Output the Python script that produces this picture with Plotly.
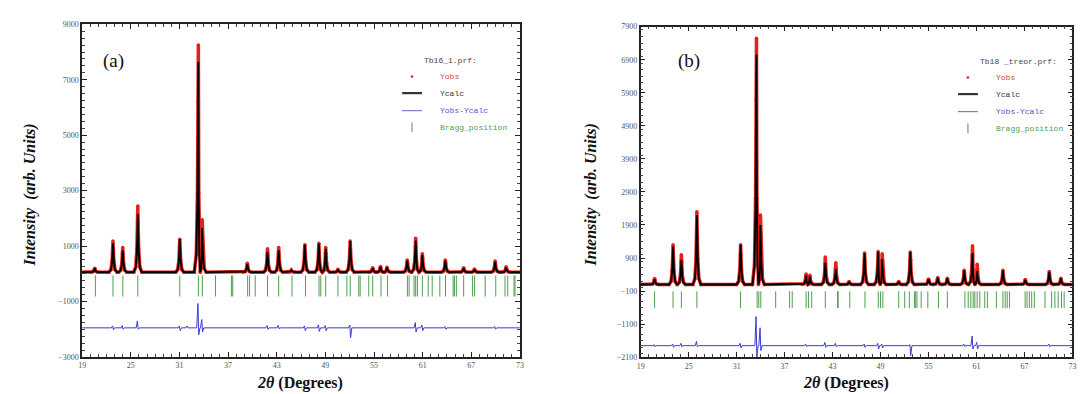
import plotly.graph_objects as go

# ---------------- Panel (a) data ----------------
a_bg = 60
a_peak_pos = [20.55, 22.8, 24.0, 25.86, 31.04, 33.33, 33.8, 39.37, 41.86, 43.24, 44.8, 46.47,
              48.2, 49.04, 50.55, 52.06, 54.84, 55.8, 56.6, 59.1, 60.14, 60.96, 63.8, 66.06,
              67.4, 69.94, 71.3]
a_obs_h = [200, 1180, 950, 2450, 1250, 8250, 1950, 380, 900, 950, 130, 1050,
           1100, 950, 160, 1180, 220, 260, 240, 500, 1280, 720, 500, 220, 170, 460, 250]
a_calc_h = [200, 1100, 850, 2150, 1250, 7650, 1650, 350, 780, 850, 130, 1050,
            1080, 900, 150, 1180, 200, 250, 230, 480, 1200, 680, 480, 200, 150, 430, 230]
a_diff_base = -1950
a_diff_pos = [22.8, 24.0, 25.86, 31.04, 32.0, 33.33, 33.8, 41.86, 43.24, 46.47, 48.2, 49.04,
              52.06, 60.14, 60.96, 63.8, 69.94]
a_diff_up = [-1880, -1870, -1700, -1880, -1880, -1070, -1650, -1870, -1860, -1880, -1840, -1870,
             -1850, -1760, -1850, -1900, -1900]
a_diff_dn = [-2020, -2000, -2000, -2050, -1950, -2200, -2100, -2000, -1980, -2050, -2080, -2050,
             -2310, -2100, -2050, -2000, -2000]
a_bragg = [20.63, 22.80, 24.02, 25.86, 31.04, 33.33, 33.82, 35.45, 37.41, 37.57, 39.41, 39.65,
           40.35, 41.86, 43.24, 44.88, 46.55, 48.22, 48.43, 49.04, 50.55, 51.65, 52.06, 53.12,
           53.29, 54.35, 54.84, 55.86, 56.67, 59.12, 59.33, 59.94, 60.14, 60.35, 60.96, 61.69,
           62.18, 63.12, 63.82, 64.76, 64.92, 65.16, 66.06, 67.16, 67.41, 68.71, 70.02, 71.16,
           71.49, 72.27, 72.39]
a_bragg_y = -440

# ---------------- Panel (b) data ----------------
b_bg = 100
b_peak_pos = [20.74, 23.05, 24.09, 26.03, 31.5, 33.48, 33.98, 39.69, 40.15, 42.09, 43.4, 45.07,
              47.0, 48.7, 49.2, 51.27, 52.72, 55.0, 56.15, 57.35, 59.46, 60.5, 61.08, 64.3,
              67.1, 70.1, 71.55]
b_obs_h = [280, 1300, 1000, 2300, 1300, 7550, 2200, 420, 380, 930, 760, 190,
           1050, 1100, 1030, 190, 1080, 270, 310, 290, 530, 1270, 710, 530, 250, 490, 290]
b_calc_h = [260, 1250, 850, 2200, 1300, 7050, 1900, 370, 340, 760, 560, 180,
            1050, 1080, 860, 180, 1080, 260, 300, 280, 520, 1050, 510, 520, 240, 480, 280]
b_diff_base = -1750
b_diff_pos = [20.74, 23.05, 24.09, 26.03, 31.5, 33.48, 33.98, 39.69, 42.09, 43.4, 47.0, 48.7,
              49.2, 52.72, 59.46, 60.5, 61.08, 70.1]
b_diff_up = [-1720, -1700, -1680, -1620, -1680, -870, -1210, -1700, -1650, -1680, -1700, -1680,
             -1700, -1720, -1700, -1460, -1650, -1700]
b_diff_dn = [-1780, -1800, -1780, -1780, -1820, -2100, -1900, -1780, -1800, -1780, -1800, -1850,
             -1820, -2050, -1780, -1850, -1850, -1780]
b_bragg = [20.74, 23.05, 24.09, 26.03, 31.49, 33.56, 33.77, 34.02, 35.88, 37.62, 37.95, 39.69,
           39.98, 40.39, 42.09, 43.62, 43.70, 45.15, 47.05, 48.71, 49.0, 49.29, 51.27, 52.02,
           52.6, 53.26, 53.34, 53.55, 54.08, 54.91, 56.24, 57.35, 59.55, 59.96, 60.29, 60.58,
           60.79, 61.08, 61.41, 62.03, 62.36, 63.48, 64.3, 64.59, 64.84, 65.13, 67.08, 67.32,
           67.61, 67.9, 68.23, 69.56, 70.39, 70.8, 71.21, 71.63, 71.96]
b_bragg_y = -360

X_MIN, X_MAX = 19, 73
RED = "#e0231c"
BLUE = "#3b3bd0"
GREEN = "#4f9e4f"
SERIF = "Times New Roman, Liberation Serif, DejaVu Serif, serif"
MONO = "Courier New, Liberation Mono, DejaVu Sans Mono, monospace"


def profile(pos, heights, bg, w=0.5):
    pk = sorted(zip(pos, heights))
    xs, ys = [X_MIN], [bg]
    for i, (p, h) in enumerate(pk):
        wl = w if i == 0 else min(w, (p - pk[i - 1][0]) / 2)
        wr = w if i == len(pk) - 1 else min(w, (pk[i + 1][0] - p) / 2)
        for dx, f in [(-wl, 0), (-wl * 0.5, 0.08), (-wl * 0.22, 0.35), (-wl * 0.08, 0.75), (0, 1),
                      (wr * 0.08, 0.75), (wr * 0.22, 0.35), (wr * 0.5, 0.08), (wr, 0)]:
            xs.append(p + dx)
            ys.append(bg + f * (h - bg))
    xs.append(X_MAX)
    ys.append(bg)
    return xs, ys


def diff_curve(pos, up, dn, base):
    xs, ys = [X_MIN], [base]
    for p, u, d in sorted(zip(pos, up, dn)):
        for dx, v in [(-0.2, base), (-0.05, u), (0.05, d), (0.2, base)]:
            xs.append(p + dx)
            ys.append(v)
    xs.append(X_MAX)
    ys.append(base)
    return xs, ys


fig = go.Figure()

panels = [
    dict(x="x", y="y", bg=a_bg, pos=a_peak_pos, obs=a_obs_h, calc=a_calc_h,
         dpos=a_diff_pos, dup=a_diff_up, ddn=a_diff_dn, dbase=a_diff_base,
         bragg=a_bragg, by=a_bragg_y, bsize=15),
    dict(x="x2", y="y2", bg=b_bg, pos=b_peak_pos, obs=b_obs_h, calc=b_calc_h,
         dpos=b_diff_pos, dup=b_diff_up, ddn=b_diff_dn, dbase=b_diff_base,
         bragg=b_bragg, by=b_bragg_y, bsize=12),
]

for p in panels:
    ox, oy = profile(p["pos"], p["obs"], p["bg"])
    cx, cy = profile(p["pos"], p["calc"], p["bg"])
    dx, dy = diff_curve(p["dpos"], p["dup"], p["ddn"], p["dbase"])
    fig.add_trace(go.Scatter(x=ox, y=oy, xaxis=p["x"], yaxis=p["y"], mode="lines+markers",
                             line=dict(color=RED, width=3.5), marker=dict(color=RED, size=3.5),
                             showlegend=False))
    fig.add_trace(go.Scatter(x=cx, y=cy, xaxis=p["x"], yaxis=p["y"], mode="lines",
                             line=dict(color="black", width=1.8), showlegend=False))
    fig.add_trace(go.Scatter(x=dx, y=dy, xaxis=p["x"], yaxis=p["y"], mode="lines",
                             line=dict(color=BLUE, width=1), showlegend=False))
    fig.add_trace(go.Scatter(x=p["bragg"], y=[p["by"]] * len(p["bragg"]), xaxis=p["x"], yaxis=p["y"],
                             mode="markers",
                             marker=dict(symbol="line-ns-open", size=p["bsize"], color=GREEN,
                                         line=dict(color=GREEN, width=1)),
                             showlegend=False))

tickfont = dict(family=SERIF, size=8, color="#555")
common_x = dict(range=[X_MIN, X_MAX], tick0=19, dtick=6, ticks="inside", ticklen=5, tickwidth=1,
                tickcolor="#222", showline=True, linecolor="#222", linewidth=1.5, mirror="allticks",
                showgrid=False, zeroline=False, tickfont=tickfont,
                minor=dict(dtick=1, ticks="inside", ticklen=3, tickcolor="#444", showgrid=False))
common_y = dict(ticks="inside", ticklen=5, tickwidth=1, tickcolor="#222", showline=True,
                linecolor="#222", linewidth=1.5, mirror="allticks", showgrid=False, zeroline=False,
                tickfont=tickfont)

fig.update_layout(
    width=1091, height=394, margin=dict(l=0, r=0, t=0, b=0),
    paper_bgcolor="white", plot_bgcolor="white", showlegend=False,
    xaxis=dict(domain=[0.0648, 0.469], anchor="y", **common_x),
    yaxis=dict(domain=[0.104, 0.968], anchor="x", range=[-3000, 9000], tick0=-3000, dtick=2000,
               minor=dict(dtick=250, ticks="inside", ticklen=3, tickcolor="#444", showgrid=False),
               **common_y),
    xaxis2=dict(domain=[0.5805, 0.9792], anchor="y2", **common_x),
    yaxis2=dict(domain=[0.1033, 0.962], anchor="x2", range=[-2100, 7900], tick0=-2100, dtick=1000,
                minor=dict(dtick=200, ticks="inside", ticklen=3, tickcolor="#444", showgrid=False),
                **common_y),
)

ann = []
shapes = []
title_font = dict(family=SERIF, size=16, color="#111")
for (cx, ytx, lab, labx) in [(290, 18, "(a)", 102), (840, 583, "(b)", 682)]:
    ann.append(dict(x=cx / 1091, y=1 - 380 / 394, xref="paper", yref="paper",
                    text="<b><i>2θ</i> (Degrees)</b>", showarrow=False, font=title_font,
                    xanchor="center", yanchor="middle"))
    ann.append(dict(x=ytx / 1091, y=1 - 187 / 394, xref="paper", yref="paper",
                    text="<b><i>Intensity  (arb. Units)</i></b>", showarrow=False, textangle=-90,
                    font=title_font, xanchor="center", yanchor="middle"))
    ann.append(dict(x=labx / 1091, y=1 - 50 / 394, xref="paper", yref="paper", text=lab,
                    showarrow=False, font=dict(family=SERIF, size=19, color="#111"),
                    xanchor="center", yanchor="middle"))

legends = [
    dict(title="Tb16_1.prf:", tx=413, ty=50, x0=393, x1=413, textx=429,
         rows=[66, 83, 101, 118]),
    dict(title="Tb18 _treor.prf:", tx=973, ty=51, x0=953, x1=973, textx=989,
         rows=[67, 84, 102, 119]),
]
for L in legends:
    ann.append(dict(x=L["tx"] / 1091, y=1 - L["ty"] / 394, xref="paper", yref="paper",
                    text=L["title"], showarrow=False, xanchor="left", yanchor="middle",
                    font=dict(family=MONO, size=8, color="#444")))
    names = [("Yobs", "#d04444"), ("Ycalc", "#333"), ("Yobs-Ycalc", "#5555c8"),
             ("Bragg_position", "#4fa04f")]
    for (name, col), ry in zip(names, L["rows"]):
        ann.append(dict(x=L["textx"] / 1091, y=1 - ry / 394, xref="paper", yref="paper",
                        text=name, showarrow=False, xanchor="left", yanchor="middle",
                        font=dict(family=MONO, size=8, color=col)))
    mid = (L["x0"] + L["x1"]) / 2
    r = L["rows"]
    shapes.append(dict(type="circle", xref="paper", yref="paper",
                       x0=(mid - 1.3) / 1091, x1=(mid + 1.3) / 1091,
                       y0=1 - (r[0] + 1.3) / 394, y1=1 - (r[0] - 1.3) / 394,
                       fillcolor=RED, line=dict(width=0)))
    shapes.append(dict(type="line", xref="paper", yref="paper", x0=L["x0"] / 1091, x1=L["x1"] / 1091,
                       y0=1 - r[1] / 394, y1=1 - r[1] / 394, line=dict(color="#333", width=2.2)))
    shapes.append(dict(type="line", xref="paper", yref="paper", x0=L["x0"] / 1091, x1=L["x1"] / 1091,
                       y0=1 - r[2] / 394, y1=1 - r[2] / 394, line=dict(color="#6666bb", width=1)))
    shapes.append(dict(type="line", xref="paper", yref="paper", x0=mid / 1091, x1=mid / 1091,
                       y0=1 - (r[3] + 5) / 394, y1=1 - (r[3] - 5) / 394,
                       line=dict(color="#777", width=1)))

fig.update_layout(annotations=ann, shapes=shapes)
fig.write_html("out.html")
